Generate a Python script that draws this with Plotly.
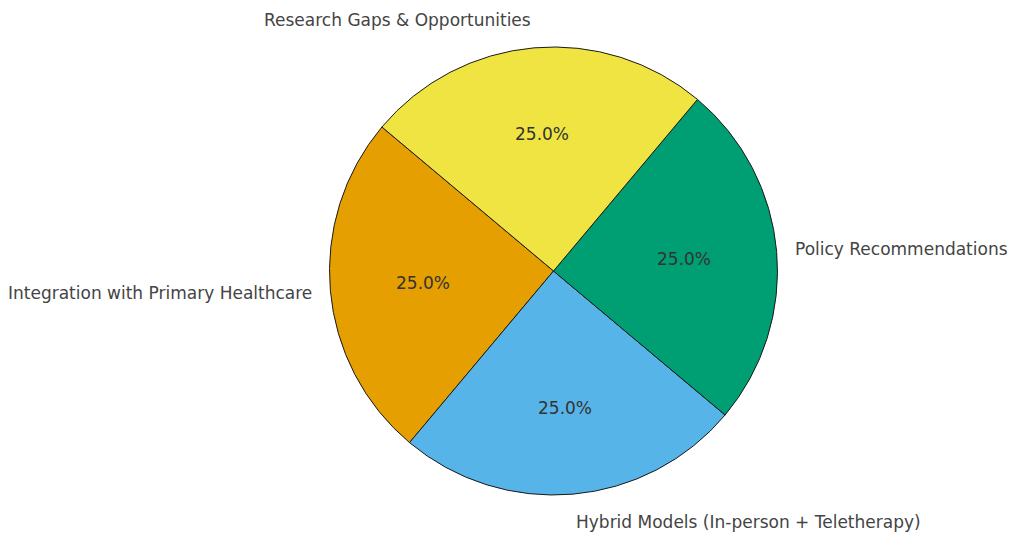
import math
import plotly.graph_objects as go

# Topic shares
labels = [
    "Integration with Primary Healthcare",
    "Hybrid Models (In-person + Teletherapy)",
    "Policy Recommendations",
    "Research Gaps & Opportunities",
]
values = [25, 25, 25, 25]
colors = ["#E69F00", "#56B4E9", "#009E73", "#F0E442"]

W, H = 1011, 534
START_ANGLE = 140          # degrees, counterclockwise from 3 o'clock
CX, CY = 553.5, 271        # pie centre in pixels
R = 224                    # pie radius in pixels
RX, RY = 218.5, 229        # radii used for label placement

total = sum(values)
first_span = 360 * values[0] / total

fig = go.Figure(go.Pie(
    labels=labels,
    values=values,
    marker=dict(colors=colors, line=dict(color="#1a1a1a", width=1)),
    sort=False,
    direction="counterclockwise",
    rotation=90 - (START_ANGLE + first_span),
    textinfo="none",
    showlegend=False,
    domain=dict(x=[(CX - R) / W, (CX + R) / W], y=[1 - (CY + R) / H, 1 - (CY - R) / H]),
))

# Outside labels and inside percentages, placed on each slice's mid-angle
annotations = []
angle = START_ANGLE
for lab, v in zip(labels, values):
    span = 360 * v / total
    mid = math.radians(angle + span / 2)
    angle += span
    c, s = math.cos(mid), math.sin(mid)
    lx, ly = CX + 1.1 * RX * c, CY - 1.1 * RY * s
    annotations.append(dict(
        x=lx / W, y=1 - ly / H, xref="paper", yref="paper",
        text=lab, showarrow=False,
        xanchor="left" if c > 0 else "right", yanchor="middle",
        font=dict(family="DejaVu Sans", size=17, color="#444444"),
    ))
    px, py = CX + 0.6 * RX * c, CY - 0.6 * RY * s
    annotations.append(dict(
        x=px / W, y=1 - py / H, xref="paper", yref="paper",
        text=f"{100 * v / total:.1f}%", showarrow=False,
        xanchor="center", yanchor="middle",
        font=dict(family="DejaVu Sans", size=17, color="#333333"),
    ))

fig.update_layout(
    width=W, height=H,
    margin=dict(l=0, r=0, t=0, b=0),
    paper_bgcolor="white",
    plot_bgcolor="white",
    annotations=annotations,
)

fig.write_html("out.html")
